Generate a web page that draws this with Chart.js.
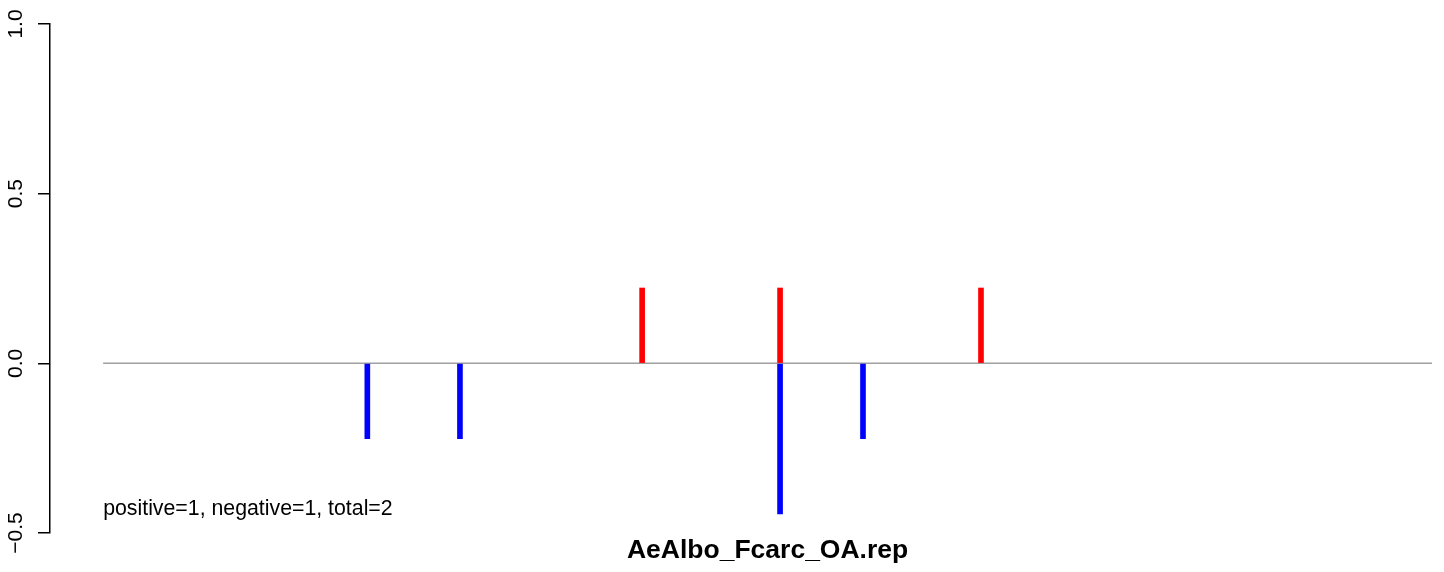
<!DOCTYPE html>
<html>
<head>
<meta charset="utf-8">
<script src="https://cdn.jsdelivr.net/npm/chart.js@4/dist/chart.umd.min.js"></script>
<style>
  html, body { margin: 0; padding: 0; background: #fff; }
  #box { width: 1444px; height: 572px; }
</style>
</head>
<body>
<div id="box"><canvas id="c"></canvas></div>
<script>
// ── Daten ───────────────────────────────────────────────────────────────────
const TITLE = 'AeAlbo_Fcarc_OA.rep';
const COUNTS = 'positive=1, negative=1, total=2';
const baseX = [0, 1000];                       // Nulllinie, Datenbereich
const posX = [405.6, 509.4, 660.6];
const posY = [0.222, 0.222, 0.222];
const negX = [198.8, 268.5, 509.4, 571.8];
const negY = [-0.222, -0.222, -0.444, -0.222];
const yTicks = [-0.5, 0, 0.5, 1];
const yLabels = ['\u22120.5', '0.0', '0.5', '1.0'];

const FONT = '"Liberation Sans", Arial, Helvetica, sans-serif';

// Achsenbeschriftung quer (wie R, las=0), Text unten links, Titel unten Mitte.
const annot = {
  id: 'annot',
  afterDraw(ch) {
    const { ctx, scales: { x, y } } = ch;
    ctx.save();
    ctx.fillStyle = '#000';
    ctx.font = '21px ' + FONT;
    ctx.textAlign = 'center';
    ctx.textBaseline = 'alphabetic';
    y.ticks.forEach(t => {
      ctx.save();
      ctx.translate(22, y.getPixelForValue(t.value));
      ctx.rotate(-Math.PI / 2);
      ctx.fillText(yLabels[yTicks.indexOf(t.value)] ?? t.label, 0, 0);
      ctx.restore();
    });
    ctx.font = '21.3px ' + FONT;
    ctx.textAlign = 'left';
    ctx.fillText(COUNTS, x.getPixelForValue(baseX[0]), y.getPixelForValue(-0.447));
    ctx.font = 'bold 26.5px ' + FONT;
    ctx.textAlign = 'center';
    ctx.fillText(TITLE, x.getPixelForValue((baseX[0] + baseX[1]) / 2), 558);
    ctx.restore();
  },
};

new Chart(document.getElementById('c'), {
  type: 'bar',
  data: {
    datasets: [
      { type: 'line', data: baseX.map(v => ({ x: v, y: 0 })), borderColor: '#a0a0a0',
        borderWidth: 1.5, pointRadius: 0, fill: false, order: 2 },
      { data: posX.map((v, i) => ({ x: v, y: posY[i] })), backgroundColor: '#ff0000',
        barThickness: 5, grouped: false, borderWidth: 0, order: 1 },
      { data: negX.map((v, i) => ({ x: v, y: negY[i] })), backgroundColor: '#0000ff',
        barThickness: 5, grouped: false, borderWidth: 0, order: 1 },
    ],
  },
  options: {
    responsive: true, maintainAspectRatio: false, animation: false,
    devicePixelRatio: 1,
    layout: { padding: { left: 38, top: 24, bottom: 39, right: 12 } },
    scales: {
      x: { type: 'linear', display: false, min: -40, max: 1000, offset: false,
           grid: { offset: false } },
      y: { min: -0.5, max: 1,
           afterBuildTicks: s => { s.ticks = yTicks.map(v => ({ value: v })); },
           ticks: { display: false },
           grid: { drawOnChartArea: false, drawTicks: true, tickLength: 12,
                   color: '#000', lineWidth: 1.5 },
           border: { display: true, color: '#000', width: 1.5 } },
    },
    plugins: { legend: { display: false }, tooltip: { enabled: false } },
  },
  plugins: [annot],
});
</script>
</body>
</html>
